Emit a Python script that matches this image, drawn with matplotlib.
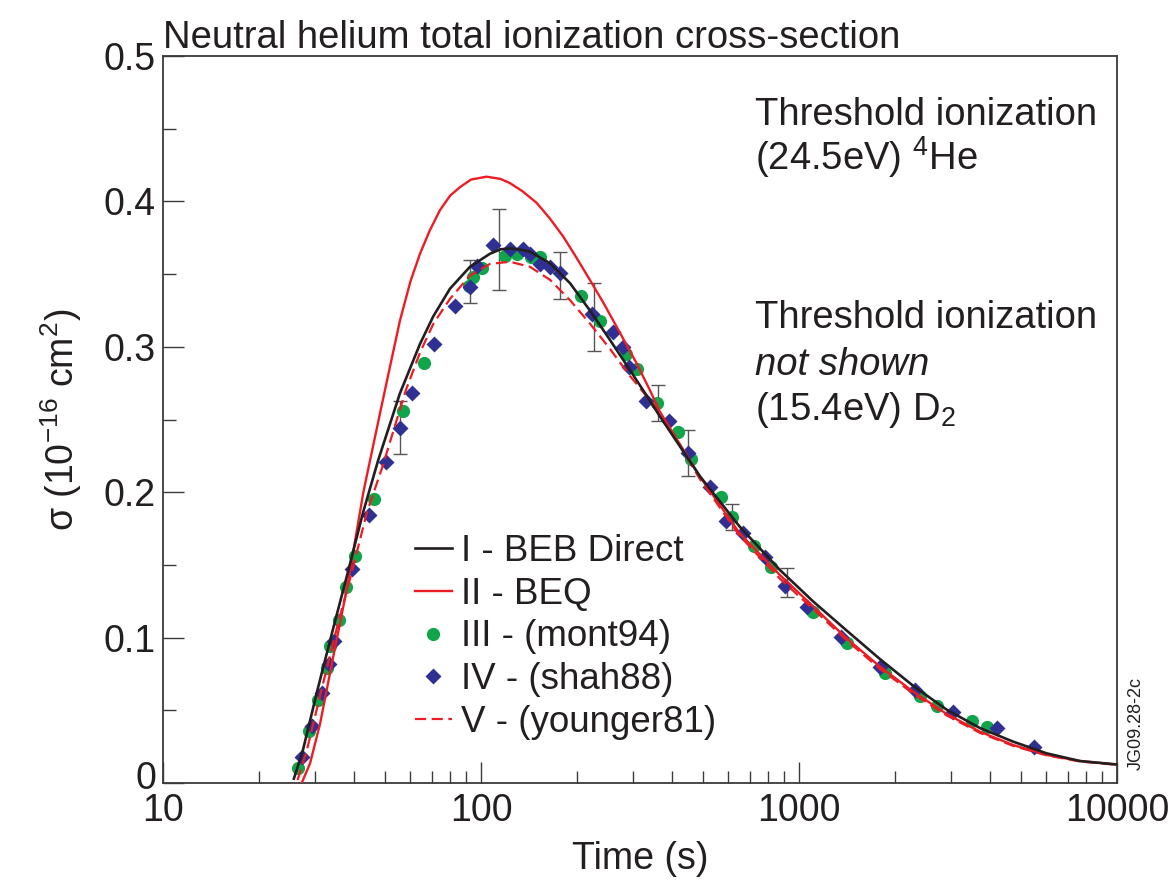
import matplotlib
matplotlib.use("Agg")
import matplotlib.pyplot as plt
from matplotlib.ticker import FixedLocator, NullFormatter, LogLocator
from matplotlib.lines import Line2D
from matplotlib.transforms import ScaledTranslation

plt.rcParams['font.family'] = ['Liberation Sans', 'DejaVu Sans']
plt.rcParams['mathtext.fontset'] = 'custom'
plt.rcParams['mathtext.rm'] = 'Liberation Sans'
plt.rcParams['mathtext.it'] = 'Liberation Sans:italic'
plt.rcParams['mathtext.default'] = 'regular'

# ---------------- data ----------------
beb_t = [25.8, 27.5, 30.6, 34.4, 38.3, 42.5, 47.5, 55.6, 64.3, 70.8, 79.9, 92.3,
         106.7, 115, 123.3, 132, 142.6, 165, 190.6, 220, 254.5, 294, 331.6, 365.5,
         488, 651, 871, 1110, 1413, 1798, 2287, 2911, 3707, 4720, 6010, 7655, 9900]
beb_s = [0.003, 0.022, 0.064, 0.1075, 0.1465, 0.1855, 0.222, 0.268, 0.302, 0.321,
         0.340, 0.355, 0.364, 0.367, 0.3677, 0.367, 0.3654, 0.3574, 0.3437, 0.325,
         0.3047, 0.284, 0.2665, 0.252, 0.211, 0.1763, 0.1465, 0.1247, 0.1048,
         0.0852, 0.0668, 0.0505, 0.0378, 0.0284, 0.0204, 0.0151, 0.0128]

beq_t = [27.3, 29.0, 31.2, 34.3, 37.8, 42.7, 48.1, 51.0, 55.6, 60.0, 64.3, 69.0,
         74.3, 80.0, 86.1, 93.0, 104.0, 115, 123.3, 135, 149.6, 165, 181.5, 200,
         220, 243, 267, 308.6, 340, 365, 488, 651, 871, 1110, 1413, 1798, 2287,
         2911, 3707, 4720, 6010, 7655, 9900]
beq_s = [0.0, 0.0135, 0.041, 0.0869, 0.1327, 0.2004, 0.254, 0.280, 0.318, 0.345,
         0.364, 0.380, 0.394, 0.404, 0.410, 0.415, 0.417, 0.4155, 0.4126, 0.407,
         0.399, 0.388, 0.3757, 0.361, 0.346, 0.330, 0.3138, 0.2886, 0.270, 0.2554,
         0.2107, 0.1717, 0.143, 0.1213, 0.0994, 0.080, 0.0628, 0.0475, 0.0353,
         0.0261, 0.0193, 0.0151, 0.0128]

you_t = [26.5, 28.3, 31.5, 35.3, 39.4, 43.7, 49.0, 58.0, 64.3, 70.9, 79.9, 92.3,
         106.7, 123.3, 142.6, 165, 190.6, 220, 254.5, 294, 365, 488, 651, 871,
         1110, 1413, 1798, 2287, 2911, 3707, 4720, 6010, 7655, 9900]
you_s = [0.002, 0.022, 0.064, 0.1075, 0.1465, 0.1855, 0.2176, 0.270, 0.296, 0.316,
         0.333, 0.349, 0.357, 0.3585, 0.355, 0.346, 0.332, 0.316, 0.2985, 0.280,
         0.255, 0.209, 0.170, 0.1405, 0.1195, 0.098, 0.0785, 0.0615, 0.0465,
         0.0345, 0.0255, 0.019, 0.0148, 0.0126]

mont_t = [26.6, 28.8, 30.7, 32.7, 33.5, 35.7, 37.6, 40.3, 46.1, 56.9, 66.3, 91.8,
          94.2, 100.4, 118.8, 130, 143.3, 153.8, 207, 236.7, 286, 308.6, 358.5,
          417, 457.5, 568, 614, 722, 814, 1110, 1413, 1868, 2404, 2712, 3494, 3911]
mont_s = [0.0101, 0.0358, 0.057, 0.079, 0.094, 0.112, 0.135, 0.156, 0.195, 0.256,
          0.289, 0.342, 0.348, 0.354, 0.3624, 0.3638, 0.362, 0.3615, 0.335, 0.318,
          0.295, 0.2845, 0.2616, 0.2416, 0.2226, 0.1965, 0.1827, 0.163, 0.1483,
          0.1178, 0.0961, 0.0754, 0.0598, 0.0532, 0.0428, 0.0387]

shah_t = [27.4, 29.4, 31.6, 33.3, 34.5, 39.4, 44.5, 50.2, 55.6, 60.5, 70.9, 82.8,
          92.3, 96.9, 108.8, 123.3, 135.2, 142.6, 153, 164.9, 177, 224, 259.5, 279,
          292.6, 331, 390.6, 448.5, 525, 589, 668, 782, 903, 1057, 1356, 1798,
          2319, 3059, 4188, 5487]
shah_s = [0.0177, 0.039, 0.062, 0.082, 0.098, 0.147, 0.184, 0.221, 0.244, 0.268,
          0.302, 0.328, 0.341, 0.3556, 0.370, 0.367, 0.367, 0.364, 0.357, 0.3547,
          0.351, 0.3226, 0.310, 0.300, 0.286, 0.2625, 0.249, 0.227, 0.2038, 0.180,
          0.1717, 0.1557, 0.1355, 0.1213, 0.1002, 0.0796, 0.064, 0.049, 0.0376,
          0.025]

err_t = [55.6, 92.3, 114, 177, 226, 360, 448, 615, 916]
err_lo = [0.226, 0.330, 0.339, 0.333, 0.297, 0.249, 0.211, 0.174, 0.128]
err_hi = [0.263, 0.360, 0.395, 0.365, 0.344, 0.274, 0.243, 0.192, 0.148]

x_ticks = [10, 100, 1000, 10000]
x_labels = ['10', '100', '1000', '10000']
y_ticks = [0, 0.1, 0.2, 0.3, 0.4, 0.5]
y_labels = ['0', '0.1', '0.2', '0.3', '0.4', '0.5']

legend_labels = ['I - BEB Direct', 'II - BEQ', 'III - (mont94)', 'IV - (shah88)',
                 'V - (younger81)']

# ---------------- style ----------------
C_BLACK = '#231f20'
C_RED = '#ed1c24'
C_GREEN = '#10a54a'
C_BLUE = '#2e3192'
C_AX = '#3a3a3a'
FS = 27

W, H = 1169, 883
fig = plt.figure(figsize=(W / 100, H / 100), dpi=100)
L, R, B, T = 163, 1117, 783, 56
ax = fig.add_axes([L / W, 1 - B / H, (R - L) / W, (B - T) / H])

ax.set_xscale('log')
ax.set_xlim(10, 10000)
ax.set_ylim(0, 0.5)

# error bars
yc = [(a + b) / 2 for a, b in zip(err_lo, err_hi)]
ye = [(b - a) / 2 for a, b in zip(err_lo, err_hi)]
ax.errorbar(err_t, yc, yerr=ye, fmt='none', ecolor='#555555', elinewidth=1.0,
            capsize=5, capthick=1.0, zorder=2)

ax.plot(mont_t, mont_s, linestyle='none', marker='o', ms=9.5, mfc=C_GREEN,
        mec='none', zorder=3)
ax.plot(shah_t, shah_s, linestyle='none', marker='D', ms=7.8, mfc=C_BLUE,
        mec='none', zorder=3)

ax.plot(you_t, you_s, color=C_RED, lw=1.6, linestyle=(0, (5, 2.5)), zorder=4)
ax.plot(beq_t, beq_s, color=C_RED, lw=1.7, zorder=4)
ax.plot(beb_t, beb_s, color=C_BLACK, lw=1.9, zorder=5)

# axes styling
for s in ax.spines.values():
    s.set_color(C_AX)
    s.set_linewidth(1.3)
ax.xaxis.set_major_locator(FixedLocator(x_ticks))
ax.set_xticklabels(x_labels)
ax.xaxis.set_minor_locator(LogLocator(base=10, subs=range(2, 10)))
ax.xaxis.set_minor_formatter(NullFormatter())
ax.set_yticks(y_ticks)
ax.set_yticklabels(y_labels)
ax.yaxis.set_minor_locator(FixedLocator([0.05, 0.15, 0.25, 0.35, 0.45]))
ax.tick_params(which='both', direction='in', top=False, right=False,
               colors=C_AX, labelcolor='#231f20', labelsize=FS)
ax.tick_params(which='major', length=15, width=1.0)
ax.tick_params(which='minor', length=9, width=1.0)
ax.tick_params(axis='x', which='major', pad=7)
ax.tick_params(axis='y', which='major', pad=5)

# raise the "0" label slightly, as in the reference
lab0 = ax.get_yticklabels()[0]
lab0.set_transform(lab0.get_transform() + ScaledTranslation(0, 6 / 72, fig.dpi_scale_trans))

ax.set_xlabel('Time (s)', fontsize=FS, color='#231f20', labelpad=9)
ax.set_ylabel('σ (10$^{\u221216}$ cm$^{2}$)', fontsize=FS, color='#231f20', labelpad=14)

ax.text(0, 1.0, 'Neutral helium total ionization cross-section', transform=ax.transAxes,
        ha='left', va='bottom', fontsize=27.5, color='#231f20')

def ftext(x, y, s, **kw):
    fig.text(x / W, 1 - y / H, s, ha='left', va='baseline', fontsize=27.5,
             color='#231f20', **kw)

ftext(755, 125, 'Threshold ionization')
ftext(755, 170, '(24.5eV) $^{4}$He')
ftext(755, 328, 'Threshold ionization')
ftext(755, 375, 'not shown', style='italic')
ftext(755, 420, '(15.4eV) D$_{2}$')

fig.text(1136 / W, 1 - 770 / H, 'JG09.28-2c', rotation=90, ha='center', va='bottom',
         fontsize=13, color='#231f20')

handles = [
    Line2D([], [], color=C_BLACK, lw=1.9),
    Line2D([], [], color=C_RED, lw=1.7),
    Line2D([], [], linestyle='none', marker='o', ms=9.5, mfc=C_GREEN, mec='none'),
    Line2D([], [], linestyle='none', marker='D', ms=7.8, mfc=C_BLUE, mec='none'),
    Line2D([], [], color=C_RED, lw=1.6, linestyle=(0, (5, 2.5))),
]
leg = fig.legend(handles, legend_labels, loc='upper left',
                 bbox_to_anchor=(415 / W, 1 - 534 / H), frameon=False,
                 fontsize=26.5, handlelength=1.0, handletextpad=0.25,
                 labelspacing=0.21, borderpad=0, borderaxespad=0)
for t in leg.get_texts():
    t.set_color('#231f20')

fig.savefig('out.png', dpi=100)
